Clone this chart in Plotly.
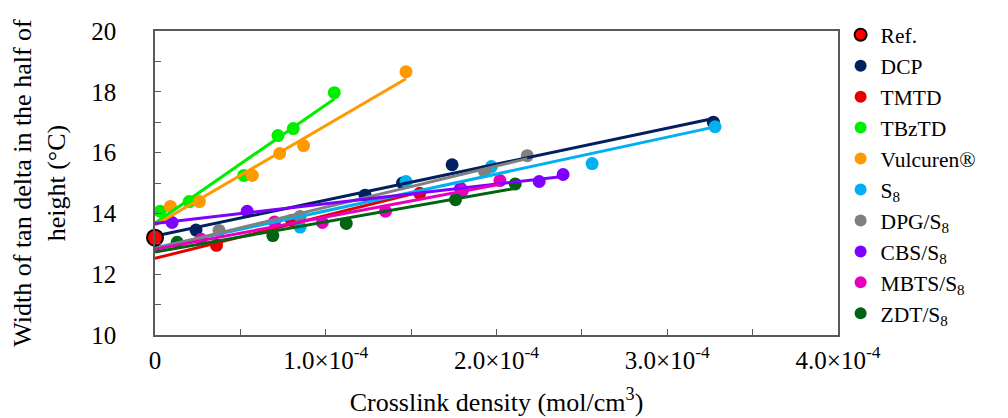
import numpy as np
import plotly.graph_objects as go

# ---- data (x in units of 1e-4 mol/cm3) ----
names = ["Ref.", "DCP", "TMTD", "TBzTD", "Vulcuren®", "S<sub>8</sub>",
         "DPG/S<sub>8</sub>", "CBS/S<sub>8</sub>", "MBTS/S<sub>8</sub>", "ZDT/S<sub>8</sub>"]
colors = ["#FF0000", "#002060", "#E50000", "#00EE00", "#FF9900", "#00B0F0",
          "#808080", "#7F00FF", "#E600BE", "#006410"]

ref_x = [0.0]
ref_y = [13.2]
dcp_x = [0.24, 1.23, 1.45, 1.74, 3.27]
dcp_y = [13.45, 14.6, 15.0, 15.6, 17.0]
tmtd_x = [0.36, 0.80, 1.55]
tmtd_y = [12.95, 13.77, 14.66]
tbztd_x = [0.03, 0.20, 0.52, 0.72, 0.81, 1.05]
tbztd_y = [14.07, 14.39, 15.25, 16.56, 16.79, 17.97]
vulc_x = [0.09, 0.26, 0.57, 0.73, 0.87, 1.47]
vulc_y = [14.23, 14.39, 15.25, 15.97, 16.23, 18.66]
s8_x = [0.85, 1.47, 1.97, 2.56, 3.28]
s8_y = [13.55, 15.05, 15.54, 15.64, 16.85]
dpg_x = [0.375, 0.85, 1.93, 2.18]
dpg_y = [13.44, 13.9, 15.38, 15.9]
cbs_x = [0.10, 0.54, 1.79, 2.25, 2.39]
cbs_y = [13.7, 14.07, 14.82, 15.05, 15.28]
mbts_x = [0.27, 0.70, 0.98, 1.35, 1.80, 2.02]
mbts_y = [13.15, 13.72, 13.7, 14.07, 14.75, 15.08]
zdt_x = [0.13, 0.69, 1.12, 1.76, 2.11]
zdt_y = [13.05, 13.27, 13.67, 14.45, 14.97]

xs = [ref_x, dcp_x, tmtd_x, tbztd_x, vulc_x, s8_x, dpg_x, cbs_x, mbts_x, zdt_x]
ys = [ref_y, dcp_y, tmtd_y, tbztd_y, vulc_y, s8_y, dpg_y, cbs_y, mbts_y, zdt_y]

x_tickvals = [0, 1, 2, 3, 4]
x_ticktext = ["0", "1.0×10<sup>-4</sup>", "2.0×10<sup>-4</sup>",
              "3.0×10<sup>-4</sup>", "4.0×10<sup>-4</sup>"]
SCALE = 1e-4

FONT = "Liberation Serif"
AX = "#595959"
fig = go.Figure()

# markers (legend entries)
for i, (n, c, x, y) in enumerate(zip(names, colors, xs, ys)):
    if i == 0:
        continue
    fig.add_trace(go.Scatter(x=np.array(x) * SCALE, y=y, mode="markers", name=n,
                             marker=dict(color=c, size=13, line=dict(width=0)),
                             cliponaxis=False, legendrank=i + 2))

# trend lines (linear fit, drawn from 0 to last point)
for i, (n, c, x, y) in enumerate(zip(names, colors, xs, ys)):
    if i == 0:
        continue
    k, b = np.polyfit(np.array(x), np.array(y), 1)
    xl = np.array([0.0, max(x)])
    fig.add_trace(go.Scatter(x=xl * SCALE, y=k * xl + b, mode="lines",
                             line=dict(color=c, width=3), showlegend=False,
                             hoverinfo="skip"))

# reference point
fig.add_trace(go.Scatter(x=np.array(ref_x) * SCALE, y=ref_y, mode="markers",
                         name=names[0],
                         marker=dict(color=colors[0], size=16,
                                     line=dict(color="black", width=2)),
                         cliponaxis=False, legendrank=1))

fig.update_layout(
    width=1008, height=418,
    margin=dict(l=147, r=178, t=23, b=91, autoexpand=False),
    paper_bgcolor="white", plot_bgcolor="white",
    font=dict(family=FONT, size=24, color="black"),
    showlegend=True,
    legend=dict(xref="container", yref="container", x=0.826, y=0.985,
                xanchor="left", yanchor="top",
                font=dict(family=FONT, size=21.5),
                bgcolor="rgba(0,0,0,0)", traceorder="normal",
                itemsizing="constant", maxheight=1),
    xaxis=dict(range=[0, 4e-4], tickvals=[v * SCALE for v in x_tickvals],
               ticktext=x_ticktext, ticks="inside", ticklen=6, tickcolor=AX,
               showline=True, linecolor=AX, linewidth=1.5, mirror=True,
               showgrid=False, zeroline=False, automargin=False,
               minor=dict(dtick=0.5e-4, ticks="inside", ticklen=6, tickcolor=AX),
               tickfont=dict(family=FONT, size=25),
               title=dict(text="Crosslink density (mol/cm<sup>3</sup>)",
                          font=dict(family=FONT, size=26), standoff=20),
               ticklabelstandoff=2),
    yaxis=dict(range=[10, 20], dtick=2, ticks="inside", ticklen=6, tickcolor=AX,
               showline=True, linecolor=AX, linewidth=1.5, mirror=True,
               showgrid=False, zeroline=False, automargin=False,
               minor=dict(dtick=1, ticks="inside", ticklen=6, tickcolor=AX),
               tickfont=dict(family=FONT, size=25),
               title=dict(text="Width of tan delta in the half of<br>height (°C)",
                          font=dict(family=FONT, size=26), standoff=24),
               ticklabelstandoff=32),
)

fig.write_html("out.html")
